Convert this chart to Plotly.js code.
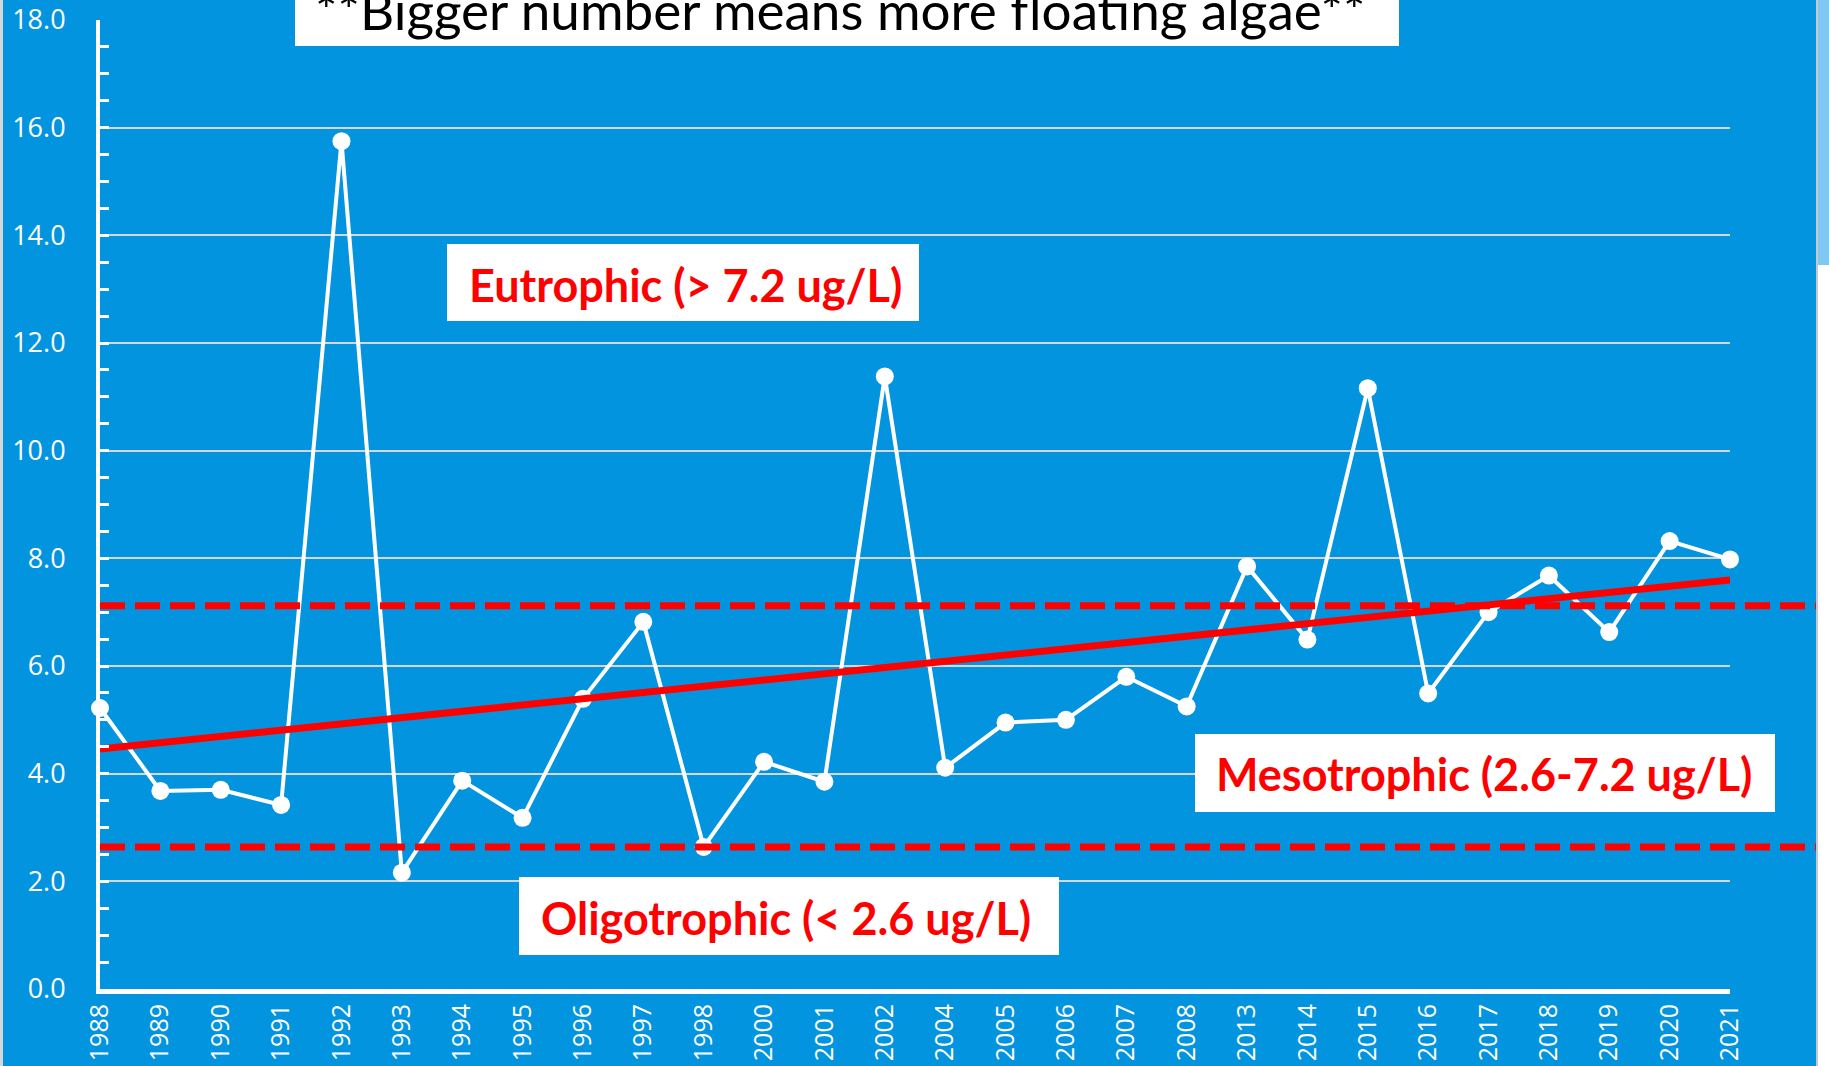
<!DOCTYPE html>
<html>
<head>
<meta charset="utf-8">
<script src="https://cdn.plot.ly/plotly-3.0.1.min.js"></script>
<style>html,body{margin:0;padding:0;background:#0394E0;overflow:hidden;}#chart{width:1829px;height:1066px;}</style>
</head>
<body>
<div id="chart"></div>
<script>
// ---- data ----
var years = ['1988','1989','1990','1991','1992','1993','1994','1995','1996','1997','1998',
             '2000','2001','2002','2004','2005','2006','2007','2008',
             '2013','2014','2015','2016','2017','2018','2019','2020','2021'];
var chlorophyll = [5.22, 3.68, 3.70, 3.42, 15.75, 2.16, 3.87, 3.18, 5.39, 6.82, 2.64,
                   4.22, 3.85, 11.38, 4.11, 4.95, 5.00, 5.80, 5.25,
                   7.85, 6.49, 11.16, 5.49, 7.00, 7.68, 6.63, 8.32, 7.98];
var trendYears = ['1988', '2021'];
var trendValues = [4.46, 7.60];
var eutrophicLimit = 7.12;    // drawn line position
var oligotrophicLimit = 2.64; // drawn line position
var titleText = '**Bigger number means more floating algae**';
var labelEu = 'Eutrophic (> 7.2 ug/L)';
var labelMeso = 'Mesotrophic (2.6-7.2 ug/L)';
var labelOligo = 'Oligotrophic (< 2.6 ug/L)';

// ---- layout geometry ----
var Wt = 1829, Ht = 1066;
var L = 100, R = 99, T = 20, B = 77;
var PW = Wt - L - R, PH = Ht - T - B;
function px(x){ return (x - L) / PW; }
function py(y){ return (Ht - B - y) / PH; }

var BLUE = '#0394E0';
var RED = '#FF0000';
var labelFont = 'Lato, "Open Sans", sans-serif';
var tickFont = '"Open Sans", sans-serif';

function box(x0, y0, x1, y1, color){
  return {type:'rect', xref:'paper', yref:'paper', x0:px(x0), x1:px(x1), y0:py(y1), y1:py(y0),
          fillcolor:color||'white', line:{width:0}, layer:'above'};
}

var shapes = [
  box(295, -20, 1399, 46),
  box(447, 244, 919, 321),
  box(519, 877, 1059, 955),
  box(1195, 734, 1775, 812),
  {type:'line', xref:'paper', yref:'y', x0:0, x1:px(1822), y0:eutrophicLimit, y1:eutrophicLimit,
   line:{color:RED, width:7, dash:'25px,10px'}, layer:'above'},
  {type:'line', xref:'paper', yref:'y', x0:0, x1:px(1829), y0:oligotrophicLimit, y1:oligotrophicLimit,
   line:{color:RED, width:7, dash:'25px,10px'}, layer:'above'},
  // window edge artefacts
  box(1817, -5, 1830, 265, '#7fc8f2'),
  box(1817, 265, 1830, 1070, '#ffffff'),
  {type:'line', xref:'paper', yref:'paper', x0:px(1817), x1:px(1817), y0:py(1070), y1:py(-5), line:{color:'#c8c8c8', width:2}, layer:'above'},
  {type:'line', xref:'paper', yref:'paper', x0:px(1.5), x1:px(1.5), y0:py(1070), y1:py(-5), line:{color:'#cfd8de', width:3}, layer:'above'}
];

var annotations = [
  {xref:'paper', yref:'paper', x:px(840), y:py(9), xanchor:'center', yanchor:'middle', showarrow:false,
   text:titleText, font:{family:labelFont, size:53, color:'black'}},
  {xref:'paper', yref:'paper', x:px(685), y:py(285), xanchor:'center', yanchor:'middle', showarrow:false,
   text:'<b>'+labelEu+'</b>', font:{family:labelFont, size:45, color:RED}},
  {xref:'paper', yref:'paper', x:px(786), y:py(918), xanchor:'center', yanchor:'middle', showarrow:false,
   text:'<b>'+labelOligo+'</b>', font:{family:labelFont, size:45, color:RED}},
  {xref:'paper', yref:'paper', x:px(1484), y:py(774), xanchor:'center', yanchor:'middle', showarrow:false,
   text:'<b>'+labelMeso+'</b>', font:{family:labelFont, size:45, color:RED}}
];

var traces = [
  {type:'scatter', mode:'lines+markers', x:years, y:chlorophyll,
   line:{color:'white', width:4}, marker:{color:'white', size:18},
   hoverinfo:'x+y', cliponaxis:false},
  {type:'scatter', mode:'lines', x:trendYears, y:trendValues,
   line:{color:RED, width:7}, hoverinfo:'skip'}
];

var layout = {
  width:Wt, height:Ht,
  margin:{l:L, r:R, t:T, b:B, pad:0},
  paper_bgcolor:BLUE, plot_bgcolor:BLUE,
  showlegend:false,
  xaxis:{type:'category', categoryorder:'array', categoryarray:years,
         range:[0, years.length-1], showgrid:false, zeroline:false,
         showline:true, linecolor:'white', linewidth:5,
         ticks:'', tickangle:-90, ticklabelstandoff:0,
         tickfont:{family:tickFont, size:25, color:'white'}},
  yaxis:{range:[0,18], dtick:2, tick0:0, tickformat:'.1f',
         showgrid:true, gridcolor:'#d6d6d6', gridwidth:2, zeroline:false,
         showline:true, linecolor:'white', linewidth:4,
         ticks:'inside', ticklen:9, tickwidth:3, tickcolor:'white',
         minor:{dtick:0.5, ticks:'inside', ticklen:9, tickwidth:3, tickcolor:'white', showgrid:false},
         ticklabelstandoff:25,
         tickfont:{family:tickFont, size:27, color:'white'}},
  shapes:shapes,
  annotations:annotations
};

Plotly.newPlot('chart', traces, layout, {displayModeBar:false, responsive:false});
</script>
</body>
</html>
